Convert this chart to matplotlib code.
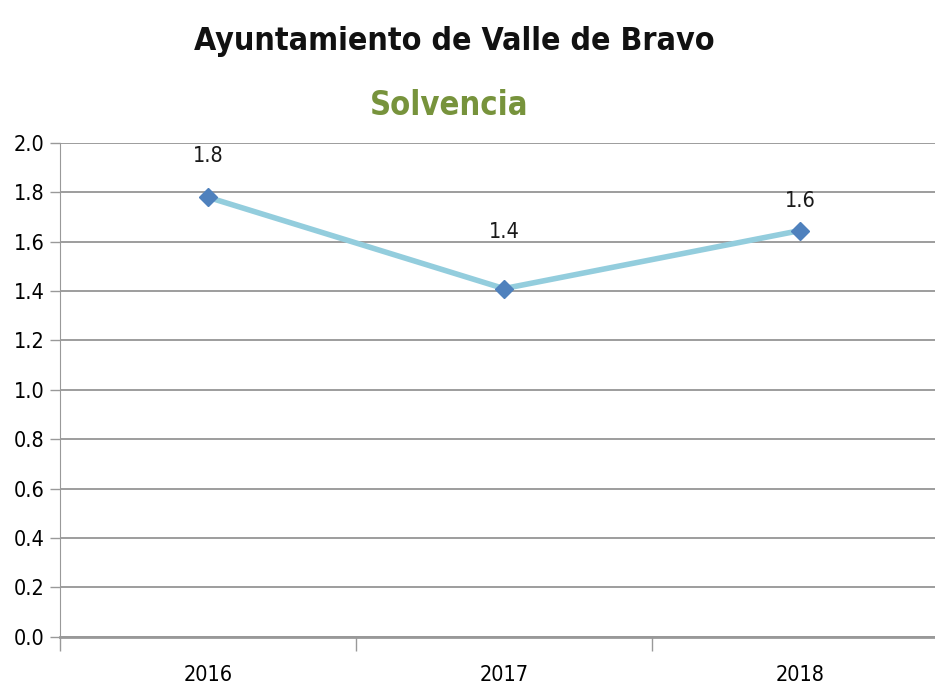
import matplotlib.pyplot as plt
from matplotlib import font_manager

years = ['2016', '2017', '2018']
solvencia = [1.78, 1.41, 1.645]
labels = ['1.8', '1.4', '1.6']
yticks = [0.0, 0.2, 0.4, 0.6, 0.8, 1.0, 1.2, 1.4, 1.6, 1.8, 2.0]

# prefer a narrow face, like the condensed look of the original
faces = font_manager.fontManager.ttflist
names = {f.name for f in faces}
has_cond = any(f.name == 'DejaVu Sans' and f.stretch == 'condensed' for f in faces)
if 'Liberation Sans Narrow' in names:
    FAM, STRETCH = 'Liberation Sans Narrow', 'normal'
elif has_cond:
    FAM, STRETCH = 'DejaVu Sans', 'condensed'
else:
    FAM, STRETCH = 'Roboto', 'condensed'
plt.rcParams['font.family'] = [FAM, 'DejaVu Sans']
plt.rcParams['font.stretch'] = STRETCH


def create_chart():
    fig = plt.figure(figsize=(9.35, 6.87), dpi=100)
    fig.patch.set_facecolor('white')
    ax = fig.add_axes([0.064, 0.073, 0.95, 0.719])

    x = list(range(len(years)))
    ax.plot(x, solvencia, color='#93CDDD', lw=4, zorder=3)
    ax.plot(x, solvencia, ls='none', marker='D', ms=9, color='#4F81BD', zorder=4)

    # data labels (offsets in px, as in the reference)
    offsets = [41, 57, 30]
    for xi, v, lab, off in zip(x, solvencia, labels, offsets):
        ax.annotate(lab, (xi, v), xytext=(0, off), textcoords='offset pixels',
                    ha='center', va='center', fontsize=15.5, color='#1a1a1a')

    ax.set_xlim(-0.5, 2.5)
    ax.set_ylim(0, 2.0)
    ax.set_yticks(yticks)
    ax.set_yticklabels([f'{t:.1f}' for t in yticks], fontsize=15.5)
    ax.set_xticks([-0.5, 0.5, 1.5, 2.5])
    ax.set_xticklabels([])
    ax.set_xticks(x, minor=True)
    ax.set_xticklabels(years, minor=True, fontsize=15.5)
    ax.tick_params(axis='x', which='major', length=10, color='#999999', width=1)
    ax.tick_params(axis='x', which='minor', length=0, pad=20)
    ax.tick_params(axis='y', length=7, color='#999999', width=1, pad=4)

    ax.grid(axis='y', color='#8c8c8c', lw=1.2)
    ax.set_axisbelow(True)
    for s in ['top', 'right']:
        ax.spines[s].set_visible(False)
    ax.spines['left'].set_color('#999999')
    ax.spines['bottom'].set_color('#999999')
    ax.spines['bottom'].set_linewidth(2)

    fig.text(0.486, 0.94, 'Ayuntamiento de Valle de Bravo', ha='center', va='center',
             fontsize=23, fontweight='bold', color='#111111')
    fig.text(0.48, 0.847, 'Solvencia', ha='center', va='center',
             fontsize=23.5, fontweight='bold', color='#77933C')

    fig.savefig('out.png', dpi=100)


if __name__ == '__main__':
    create_chart()
